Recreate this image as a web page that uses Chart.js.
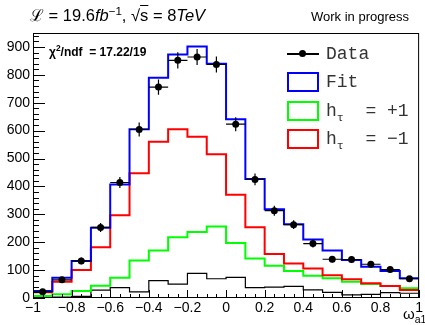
<!DOCTYPE html>
<html lang="en">
<head>
<meta charset="UTF-8">
<title>omega_a1 fit</title>
<script src="https://cdn.jsdelivr.net/npm/chart.js"></script>
<style>
  body { margin: 0; background: #fff; }
  #wrap { position: relative; width: 425px; height: 325px; font-family: "Liberation Sans", Arial, sans-serif; color: #000; }
  #wrap canvas { position: absolute; left: 0; top: 0; }
  .txt { position: absolute; white-space: nowrap; line-height: 1; }
  .txt sup, .txt sub { font-size: 70%; line-height: 0; }
  .ov { text-decoration: overline; }
  #legend { position: absolute; left: 287px; top: 44px; font-family: "Liberation Mono", "Courier New", monospace; font-size: 18px; }
  .row { position: absolute; left: 0; height: 20px; width: 130px; white-space: nowrap; }
  .sym { position: absolute; left: 0; top: 0; width: 32px; height: 20px; box-sizing: border-box; border: 2px solid; }
  .lab { position: absolute; left: 39px; top: 0; line-height: 20px; color: #333; }
  .lab sub { font-size: 65%; line-height: 0; }
</style>
</head>
<body>
<div id="wrap">
  <canvas id="histChart" width="425" height="325"></canvas>

  <div class="txt" style="left:30px; top:7px; font-size:16.5px;">ℒ = 19.6<i>fb</i><sup>−1</sup>, √<span class="ov">s</span> = 8<i>TeV</i></div>
  <div class="txt" style="left:311px; top:10px; font-size:13px;">Work in progress</div>
  <div class="txt" style="left:49px; top:46px; font-size:12px; font-weight:bold;">χ<sup>2</sup>/ndf&nbsp; = 17.22/19</div>
  <div class="txt" style="left:403px; top:306px; font-size:15px;">ω<sub>a1</sub></div>

  <div id="legend">
    <div class="row" style="top:0px;">
      <div style="position:absolute; left:0; top:9px; width:32px; height:1.5px; background:#000;"></div>
      <div style="position:absolute; left:12px; top:6px; width:7px; height:7px; border-radius:50%; background:#000;"></div>
      <div class="lab">Data</div>
    </div>
    <div class="row" style="top:28px;"><div class="sym" style="border-color:#0000ff;"></div><div class="lab">Fit</div></div>
    <div class="row" style="top:57px;"><div class="sym" style="border-color:#00ff00;"></div><div class="lab">h<sub>τ</sub>&nbsp; = +1</div></div>
    <div class="row" style="top:85px;"><div class="sym" style="border-color:#ff0000;"></div><div class="lab">h<sub>τ</sub>&nbsp; = −1</div></div>
  </div>
</div>

<script>
  // Bin low edges (20 bins of width 0.1 from -1 to 1)
  const binLow = [-1.0, -0.9, -0.8, -0.7, -0.6, -0.5, -0.4, -0.3, -0.2, -0.1,
                  0.0, 0.1, 0.2, 0.3, 0.4, 0.5, 0.6, 0.7, 0.8, 0.9];
  const binWidth = 0.1;

  // Data points and their errors
  const dataY   = [22, 65, 133, 253, 414, 604, 756, 852, 864, 837,
                   623, 425, 313, 263, 195, 139, 138, 121, 102, 69];
  const dataErr = [5, 8, 12, 16, 20, 25, 27, 29, 29, 29,
                   25, 21, 18, 16, 14, 12, 12, 11, 10, 8];

  // Fit and components
  const fitY    = [25, 73, 133, 252, 407, 605, 790, 873, 902, 840,
                   641, 427, 318, 264, 210, 170, 136, 112, 97, 71];
  const hPlusY  = [7, 13, 25, 44, 73, 134, 170, 218, 237, 256,
                   197, 142, 116, 97, 80, 71, 58, 50, 43, 35];
  const hMinusY = [21, 58, 100, 182, 297, 447, 560, 605, 578, 515,
                   370, 254, 158, 124, 106, 82, 67, 53, 43, 29];
  const otherY  = [3, 3, 6, 28, 37, 22, 62, 50, 88, 69,
                   74, 37, 39, 42, 29, 20, 11, 13, 19, 17];

  // Axes
  const yMax = 950;
  const yStep = 100;
  const xStep = 0.2;

  const fontFamily = '"Liberation Sans", Arial, sans-serif';

  // Turn bin contents into stepped line points (with edges down to zero)
  function histPoints(values) {
    const last = binLow[binLow.length - 1] + binWidth;
    const pts = [{ x: binLow[0], y: 0 }];
    values.forEach((v, i) => pts.push({ x: binLow[i], y: v }));
    pts.push({ x: last, y: values[values.length - 1] });
    pts.push({ x: last, y: 0 });
    return pts;
  }

  function histDataset(label, values, color, width, order) {
    return {
      type: 'line',
      label: label,
      data: histPoints(values),
      borderColor: color,
      borderWidth: width,
      stepped: true,
      pointRadius: 0,
      fill: false,
      order: order
    };
  }

  // ROOT-like decorations: frame, inward ticks, error bars
  const rootStyle = {
    id: 'rootStyle',
    beforeDatasetDraw(chart, args) {
      if (args.index !== 0) return;
      const { ctx, scales: { x, y } } = chart;
      ctx.save();
      ctx.strokeStyle = '#000';
      ctx.lineWidth = 1.2;
      dataY.forEach((v, i) => {
        const cx = x.getPixelForValue(binLow[i] + binWidth / 2);
        const x0 = x.getPixelForValue(binLow[i]);
        const x1 = x.getPixelForValue(binLow[i] + binWidth);
        const cy = y.getPixelForValue(v);
        const y0 = y.getPixelForValue(Math.max(0, v - dataErr[i]));
        const y1 = y.getPixelForValue(v + dataErr[i]);
        ctx.beginPath();
        ctx.moveTo(x0, cy); ctx.lineTo(x1, cy);
        ctx.moveTo(cx, y0); ctx.lineTo(cx, y1);
        ctx.stroke();
      });
      ctx.restore();
    },
    afterDraw(chart) {
      const { ctx, chartArea: a, scales: { x, y } } = chart;
      ctx.save();
      ctx.strokeStyle = '#000';
      ctx.lineWidth = 1;
      ctx.strokeRect(a.left + 0.5, a.top + 0.5, a.right - a.left - 1, a.bottom - a.top - 1);
      ctx.beginPath();
      // y ticks (major 100, minor 20)
      for (let v = 0; v <= yMax; v += 20) {
        const py = Math.round(y.getPixelForValue(v)) + 0.5;
        const len = v % yStep === 0 ? 12 : 6;
        ctx.moveTo(a.left, py); ctx.lineTo(a.left + len, py);
      }
      // x ticks (major 0.2, minor 0.05)
      for (let k = 0; k <= 40; k++) {
        const v = -1 + k * 0.05;
        const px = Math.round(x.getPixelForValue(v)) + 0.5;
        const len = k % 4 === 0 ? 8 : 4;
        ctx.moveTo(px, a.bottom); ctx.lineTo(px, a.bottom - len);
      }
      ctx.stroke();
      ctx.restore();
    }
  };

  const fmt = v => {
    const r = Math.round(v * 10) / 10;
    if (r === 0) return '0';
    return (r < 0 ? '\u2212' : '') + String(Math.abs(r));
  };

  new Chart(document.getElementById('histChart'), {
    data: {
      datasets: [
        {
          type: 'scatter',
          label: 'Data',
          data: dataY.map((v, i) => ({ x: binLow[i] + binWidth / 2, y: v })),
          backgroundColor: '#000',
          borderColor: '#000',
          pointRadius: 3.5,
          pointBorderWidth: 0,
          showLine: false,
          order: 0
        },
        histDataset('Fit', fitY, '#0000ff', 2, 1),
        histDataset('h = -1', hMinusY, '#ff0000', 2, 2),
        histDataset('h = +1', hPlusY, '#00ff00', 2, 3),
        histDataset('Other', otherY, '#000000', 1.2, 4)
      ]
    },
    options: {
      responsive: false,
      animation: false,
      layout: { padding: { left: 0, right: 2, top: 33, bottom: 0 } },
      plugins: { legend: { display: false }, tooltip: { enabled: false } },
      scales: {
        x: {
          type: 'linear',
          min: -1,
          max: 1,
          grid: { display: false, drawTicks: false, tickLength: 0 },
          border: { display: false },
          ticks: {
            stepSize: xStep,
            autoSkip: false,
            maxRotation: 0,
            padding: 2,
            color: '#000',
            font: { family: fontFamily, size: 14 },
            callback: fmt
          },
          afterFit: s => { s.height = 27; }
        },
        y: {
          min: 0,
          max: yMax,
          grid: { display: false, drawTicks: false, tickLength: 0 },
          border: { display: false },
          ticks: {
            stepSize: yStep,
            includeBounds: false,
            autoSkip: false,
            padding: 3,
            color: '#000',
            font: { family: fontFamily, size: 14 }
          },
          afterFit: s => { s.width = 33; }
        }
      }
    },
    plugins: [rootStyle]
  });
</script>
</body>
</html>
